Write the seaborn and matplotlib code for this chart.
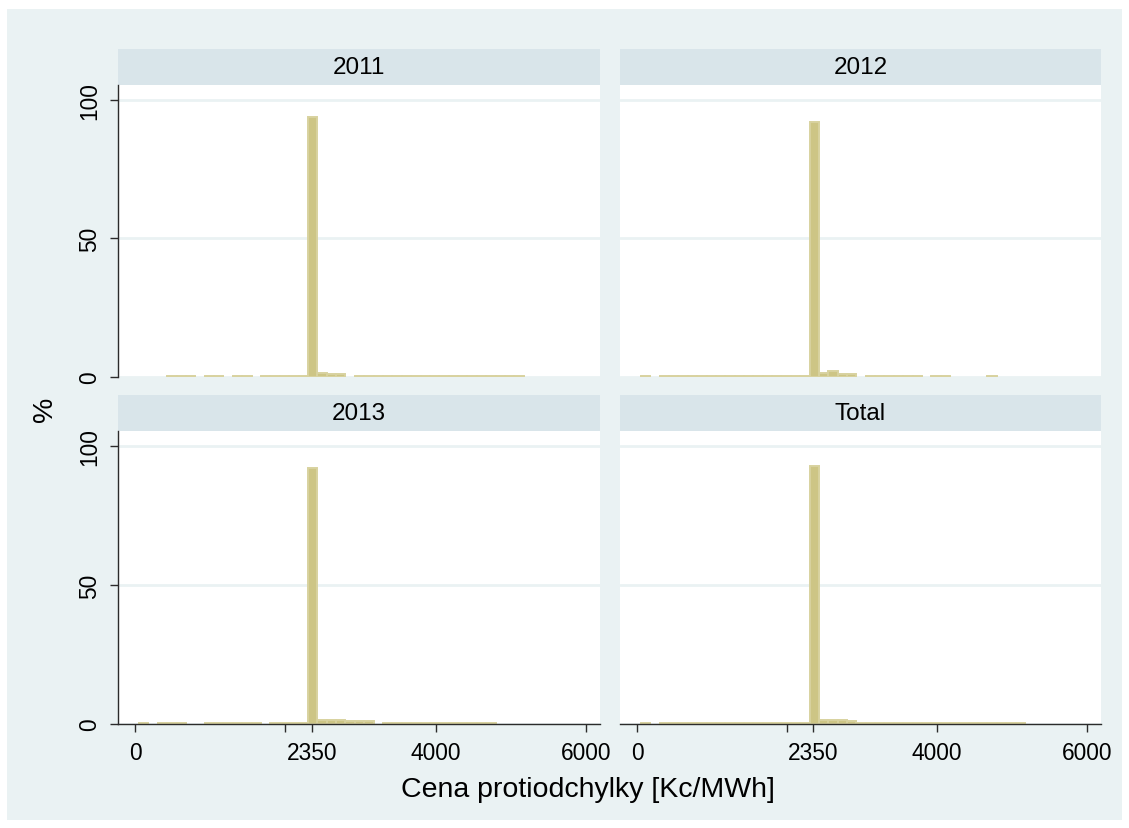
import numpy as np
import pandas as pd
import matplotlib
matplotlib.use("Agg")
import matplotlib.pyplot as plt
from matplotlib.patches import Rectangle
import seaborn as sns

# Histogram of the counter-imbalance price, percent of hours per 125 Kc/MWh bin
bin_edges = [50 + 125 * k for k in range(43)]          # 50 ... 5300
bin_centers = [(a + b) / 2 for a, b in zip(bin_edges[:-1], bin_edges[1:])]

panels = ["2011", "2012", "2013", "Total"]

pct_2011 = [0, 0, 0, 0.5, 0.5, 0.5, 0, 0.5, 0.5, 0, 0.5, 0.5, 0, 0.5, 0.5, 0.5, 0.5, 0.5,
            94.0, 1.6, 1.2, 1.2, 0,
            0.5, 0.5, 0.5, 0.5, 0.5, 0.5, 0.5, 0.5, 0.5, 0.5, 0.5, 0.5, 0.5, 0.5, 0.5, 0.5, 0.5, 0.5,
            0]
pct_2012 = [0.5, 0, 0.5, 0.5, 0.5, 0.5, 0.5, 0.5, 0.5, 0.5, 0.5, 0.5, 0.5, 0.5, 0.5, 0.5, 0.5, 0.5,
            92.0, 1.45, 2.1, 1.2, 1.2, 0,
            0.5, 0.5, 0.5, 0.5, 0.5, 0.5, 0, 0.5, 0.5, 0, 0, 0, 0, 0.5, 0, 0, 0, 0]
pct_2013 = [0.5, 0, 0.5, 0.5, 0.5, 0, 0, 0.5, 0.5, 0.5, 0.5, 0.5, 0.5, 0, 0.5, 0.5, 0.5, 0.5,
            92.2, 1.6, 1.6, 1.6, 1.0, 1.0, 1.0, 0,
            0.5, 0.5, 0.5, 0.5, 0.5, 0.5, 0.5, 0.5, 0.5, 0.5, 0.5, 0.5, 0, 0, 0, 0]
pct_total = [0.5, 0, 0.5, 0.5, 0.5, 0.5, 0.5, 0.5, 0.5, 0.5, 0.5, 0.5, 0.5, 0.5, 0.5, 0.5, 0.5, 0.5,
             92.8, 1.6, 1.6, 1.6, 1.1,
             0.5, 0.5, 0.5, 0.5, 0.5, 0.5, 0.5, 0.5, 0.5, 0.5, 0.5, 0.5, 0.5, 0.5, 0.5, 0.5, 0.5, 0.5,
             0]

x_ticks = [0, 2000, 2350, 4000, 6000]
x_ticklabels = ["0", "", "2350", "4000", "6000"]
y_ticks = [0, 50, 100]
y_ticklabels = ["0", "50", "100"]
x_title = "Cena protiodchylky [Kc/MWh]"
y_title = "%"

df = pd.DataFrame({
    "panel": np.repeat(panels, len(bin_centers)),
    "price": np.tile(bin_centers, len(panels)),
    "pct": np.concatenate([pct_2011, pct_2012, pct_2013, pct_total]),
})

# Colours
BG = "#EAF2F3"
STRIP = "#D9E5EA"
BAR = "#CDC585"
BAR_EDGE = "#D8D29F"
AXIS = "#2b2b2b"

sns.set_theme(style="white")
plt.rcParams["font.family"] = ["Liberation Sans", "DejaVu Sans"]

g = sns.FacetGrid(df, col="panel", col_wrap=2, col_order=panels,
                  sharex=True, sharey=True, height=4, aspect=1.3)
g.map_dataframe(sns.histplot, x="price", weights="pct", bins=bin_edges,
                stat="count", color=BAR, edgecolor=BAR_EDGE, linewidth=1.4,
                alpha=1.0)
g.set_titles("")
g.set_axis_labels("", "")

fig = g.figure
fig.set_size_inches(11.29, 8.29)
fig.set_dpi(100)
fig.patch.set_facecolor("white")
W, H = 1129.0, 829.0

# outer tinted frame
fig.add_artist(Rectangle((7 / W, 1 - 821 / H), 1115 / W, 811 / H,
                         transform=fig.transFigure, facecolor=BG,
                         edgecolor="none", zorder=-5))

col_left = [118 / W, 620 / W]
col_width = [482 / W, 481 / W]
row_bottom = [1 - 378 / H, 1 - 725 / H]
row_height = [292 / H, 293 / H]
strip_px = 36

axes = g.axes.flatten()
for i, (ax, name) in enumerate(zip(axes, panels)):
    r, c = divmod(i, 2)
    ax.set_position([col_left[c], row_bottom[r], col_width[c], row_height[r]])
    ax.set_facecolor("white")
    ax.set_xlim(-230, 6190)
    ax.set_ylim(0, 105.4)

    # empty bins carry no outline
    for p in ax.patches:
        if p.get_height() == 0:
            p.set_visible(False)

    ax.set_axisbelow(True)
    ax.yaxis.grid(True, color=BG, linewidth=2.0)
    ax.xaxis.grid(False)
    ax.set_yticks(y_ticks)
    ax.set_xticks(x_ticks)

    for s in ax.spines.values():
        s.set_visible(False)

    if c == 0:
        ax.spines["left"].set_visible(True)
        ax.spines["left"].set_color(AXIS)
        ax.spines["left"].set_linewidth(1.0)
        ax.set_yticklabels(y_ticklabels, rotation=90, va="center")
        ax.tick_params(axis="y", left=True, labelleft=True, direction="out",
                       length=6, width=1.0, color=AXIS, pad=6,
                       labelsize=16.4, labelcolor="black")
    else:
        ax.tick_params(axis="y", left=False, labelleft=False)

    if r == 1:
        ax.spines["bottom"].set_visible(True)
        ax.spines["bottom"].set_color(AXIS)
        ax.spines["bottom"].set_linewidth(1.0)
        ax.set_xticklabels(x_ticklabels)
        ax.tick_params(axis="x", bottom=True, labelbottom=True, direction="out",
                       length=6, width=1.0, color=AXIS, pad=6,
                       labelsize=16.4, labelcolor="black")
    else:
        ax.tick_params(axis="x", bottom=False, labelbottom=False)

    # panel header strip
    sh = strip_px / (row_height[r] * H)
    ax.add_patch(Rectangle((0, 1), 1, sh, transform=ax.transAxes,
                           facecolor=STRIP, edgecolor="none", clip_on=False))
    ax.text(0.5, 1 + sh / 2, name, transform=ax.transAxes, ha="center",
            va="center", fontsize=17.5, color="black")

fig.text(587.5 / W, 1 - 797 / H, x_title, ha="center", va="baseline",
         fontsize=20.5, color="black")
fig.text(45 / W, 1 - 409 / H, y_title, ha="center", va="center",
         rotation=90, fontsize=20.5, color="black")

fig.savefig("out.png", dpi=100, facecolor="white")
